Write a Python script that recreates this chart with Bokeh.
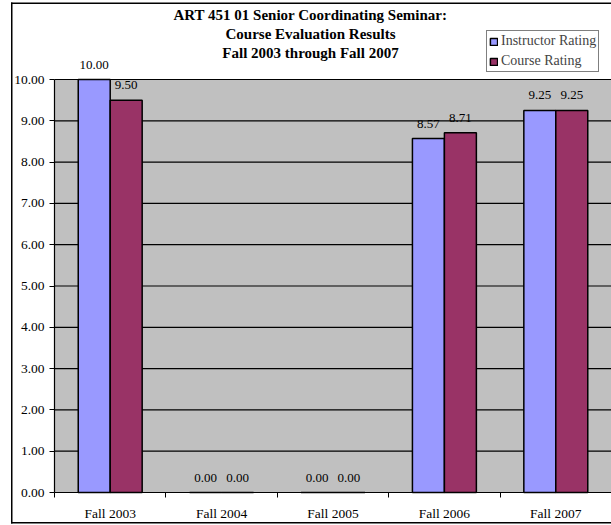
from bokeh.plotting import figure
from bokeh.models import (ColumnDataSource, FixedTicker, Range1d, Legend, LegendItem,
                          Label, BoxAnnotation, PrintfTickFormatter, LabelSet)
from bokeh.transform import dodge
from bokeh.core.properties import value
from bokeh.embed import file_html
from bokeh.resources import INLINE

categories = ["Fall 2003", "Fall 2004", "Fall 2005", "Fall 2006", "Fall 2007"]
instructor = [10.00, 0.00, 0.00, 8.57, 9.25]
course = [9.50, 0.00, 0.00, 8.71, 9.25]
series_names = ["Instructor Rating", "Course Rating"]
y_ticks = [0, 1, 2, 3, 4, 5, 6, 7, 8, 9, 10]
title_lines = ["ART 451 01 Senior Coordinating Seminar:",
               "Course Evaluation Results",
               "Fall 2003 through Fall 2007"]

FONT = "Liberation Serif"
BW = 0.287
W, H = 611, 525
# plot-area placement in pixels
PL, PR, PT, PB = 54, 611, 79, 492
n = len(categories)
ymax = max(y_ticks)
xu = (PR - PL) / n
yu = (PB - PT) / ymax

xs = [i + 0.5 for i in range(n)]
src = ColumnDataSource(dict(
    x=xs,
    inst=instructor,
    crs=course,
    inst_lbl=["%.2f" % v for v in instructor],
    crs_lbl=["%.2f" % v for v in course],
))

p = figure(width=W, height=H, output_backend="svg", toolbar_location=None,
           x_range=Range1d(-PL / xu, n + (W - PR) / xu),
           y_range=Range1d(-(H - PB) / yu, ymax + PT / yu),
           min_border=0)
p.background_fill_color = "white"
p.border_fill_color = "white"
p.outline_line_color = None
p.xgrid.grid_line_color = None
p.ygrid.grid_line_color = None

# plot area
p.add_layout(BoxAnnotation(left=0, right=n, bottom=0, top=ymax,
                           fill_color="#C0C0C0", fill_alpha=1, line_color=None,
                           level="image"))
# grid lines (limited to plot area; the one at 0 is the x axis line)
p.segment(x0=[0] * len(y_ticks), x1=[n] * len(y_ticks), y0=y_ticks, y1=y_ticks,
          line_color="black", line_width=1.2)

r1 = p.vbar(x=dodge("x", -BW / 2, range=p.x_range), top="inst", width=BW, source=src,
            fill_color="#9999FF", line_color="black", line_width=1.5)
r2 = p.vbar(x=dodge("x", BW / 2, range=p.x_range), top="crs", width=BW, source=src,
            fill_color="#993366", line_color="black", line_width=1.5)

for col, lbl, off in (("inst", "inst_lbl", -BW / 2), ("crs", "crs_lbl", BW / 2)):
    p.add_layout(LabelSet(x=dodge("x", off, range=p.x_range), y=col, text=lbl, source=src,
                          y_offset=15, text_align="center", text_baseline="middle",
                          text_font=value(FONT), text_font_size="13px", text_color="black"))

# axes
p.xaxis.fixed_location = 0
p.xaxis.bounds = (0, n)
p.xaxis.ticker = FixedTicker(ticks=xs, minor_ticks=list(range(n + 1)))
p.xaxis.major_label_overrides = {x: c for x, c in zip(xs, categories)}
p.xaxis.major_tick_out = 0
p.xaxis.major_tick_in = 0
p.xaxis.minor_tick_out = 5
p.xaxis.minor_tick_in = 0
p.xaxis.minor_tick_line_color = "black"
p.xaxis.major_label_standoff = 8
p.xaxis.axis_line_color = None
p.yaxis.fixed_location = 0
p.yaxis.bounds = (0, ymax)
p.yaxis.ticker = FixedTicker(ticks=y_ticks)
p.yaxis.formatter = PrintfTickFormatter(format="%.2f")
p.yaxis.major_tick_out = 5
p.yaxis.major_tick_in = 0
p.yaxis.minor_tick_line_color = None
p.yaxis.major_label_standoff = 5
p.yaxis.axis_line_color = "black"
p.yaxis.axis_line_width = 1.2
for ax in (p.xaxis, p.yaxis):
    ax.major_tick_line_color = "black"
    ax.major_label_text_font = FONT
    ax.major_label_text_font_size = "13.5px"
    ax.major_label_text_color = "black"

# title (screen units from the frame's bottom-left)
for i, t in enumerate(title_lines):
    p.add_layout(Label(x=310, y=H - 14 - 19 * i, x_units="screen", y_units="screen",
                       text=t, text_align="center", text_baseline="middle",
                       text_font=FONT, text_font_size="15px", text_font_style="bold",
                       text_color="black"))

# outer border: left, top and bottom strips (right side lies beyond the window)
def strip(l, r, b, t):
    p.add_layout(BoxAnnotation(left=l, right=r, bottom=b, top=t,
                               left_units="screen", right_units="screen",
                               top_units="screen", bottom_units="screen",
                               fill_color="black", fill_alpha=1, line_color=None))

strip(10.5, 12, H - 523, H - 2)
strip(10.5, W, H - 3.5, H - 2)
strip(10.5, W, H - 523, H - 521.5)

legend = Legend(items=[LegendItem(label=series_names[0], renderers=[r1]),
                       LegendItem(label=series_names[1], renderers=[r2])],
                location=(486, H - 72), orientation="vertical",
                label_text_font=FONT, label_text_font_size="14px",
                glyph_width=9, glyph_height=9, label_height=16, spacing=4,
                padding=2, margin=0, label_standoff=3,
                border_line_color="black", border_line_width=1,
                background_fill_color="white", background_fill_alpha=1)
p.add_layout(legend)

open("out.html", "w").write(file_html(p, INLINE))
